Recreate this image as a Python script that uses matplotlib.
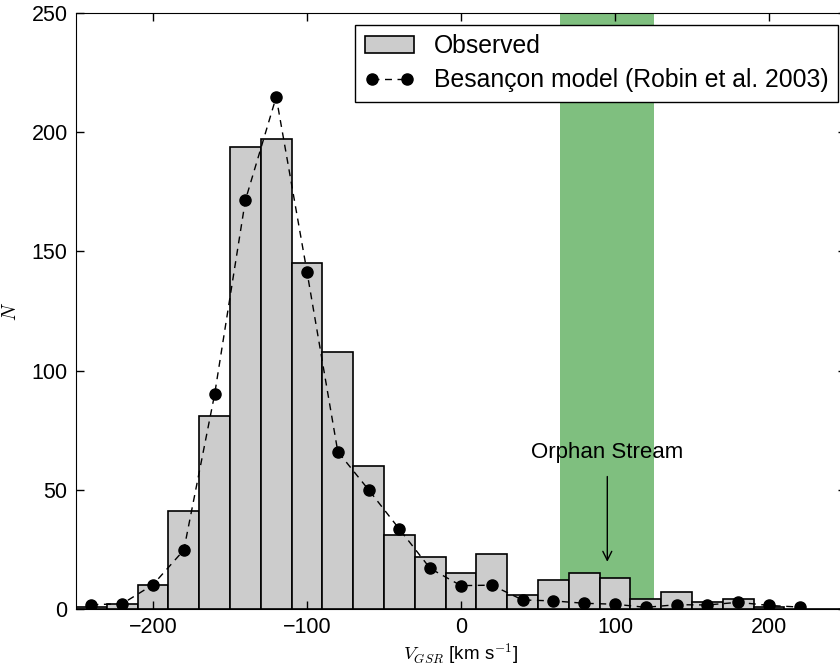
import numpy as np
import matplotlib
matplotlib.use("Agg")
import matplotlib.pyplot as plt

plt.rcParams['font.family'] = ['Liberation Sans', 'DejaVu Sans']
plt.rcParams['mathtext.fontset'] = 'cm'
plt.rcParams['xtick.direction'] = 'in'
plt.rcParams['ytick.direction'] = 'in'

# histogram bins (km/s) and observed counts
bin_edges = np.arange(-250, 251, 20)
observed = [1, 2, 10, 41, 81, 194, 197, 145, 108, 60, 31, 22, 15, 23,
            6, 12, 15, 13, 4, 7, 3, 4, 1, 0, 0]

# Besancon model at bin centres
model_v = [-240, -220, -200, -180, -160, -140, -120, -100, -80, -60, -40,
           -20, 0, 20, 40, 60, 80, 100, 120, 140, 160, 180, 200, 220]
model_n = [1.8, 2.2, 10.2, 24.7, 90, 171.5, 214.8, 141.4, 66, 50, 33.5,
           17, 9.8, 10, 3.8, 3.4, 2.4, 2.0, 0.7, 1.8, 1.7, 2.8, 1.5, 0.8]

orphan_range = (64.5, 125.5)


def main():
    fig = plt.figure(figsize=(8.4, 6.66), dpi=100)
    # right spine sits just outside the picture, as in the original crop
    ax = fig.add_axes([76 / 840, 1 - 609 / 666, (846 - 76) / 840, (609 - 13) / 666])

    ax.axvspan(orphan_range[0], orphan_range[1], color='green', alpha=0.5,
               lw=0, zorder=0)

    bars = ax.bar(bin_edges[:-1], observed, width=20, align='edge', color='0.8',
                  edgecolor='k', linewidth=1.2, zorder=1)
    line, = ax.plot(model_v, model_n, 'k--o', markersize=8, lw=1, zorder=2,
                    dashes=(5, 4))

    ax.annotate('Orphan Stream', xy=(95, 19.8), xytext=(95, 65.8),
                ha='center', va='center', fontsize=16,
                arrowprops=dict(arrowstyle='->', color='k', lw=1,
                                shrinkA=8, shrinkB=0))

    ax.set_xlim(-250, 250)
    ax.set_ylim(0, 250)
    ax.set_xticks([-200, -100, 0, 100, 200])
    ax.set_yticks([0, 50, 100, 150, 200, 250])
    ax.tick_params(labelsize=15.5, length=6, width=1, top=True, right=True, pad=6)
    ax.set_xlabel(r'$V_{GSR}$ [km s$^{-1}$]', fontsize=13.5, labelpad=2)
    ax.set_ylabel(r'$N$', fontsize=14)
    ax.yaxis.set_label_coords(-0.073, 0.5)

    leg = ax.legend([bars, line], ['Observed', 'Besançon model (Robin et al. 2003)'],
                    loc='upper right', fontsize=17.8, numpoints=2,
                    bbox_to_anchor=(838 / 840, 1 - 25 / 666),
                    bbox_transform=fig.transFigure, framealpha=1,
                    fancybox=False, borderaxespad=0, handlelength=2.0,
                    labelspacing=0.4, borderpad=0.38)
    leg.get_frame().set_edgecolor('k')
    leg.get_frame().set_linewidth(1)

    fig.savefig('out.png', dpi=100)


if __name__ == "__main__":
    main()
